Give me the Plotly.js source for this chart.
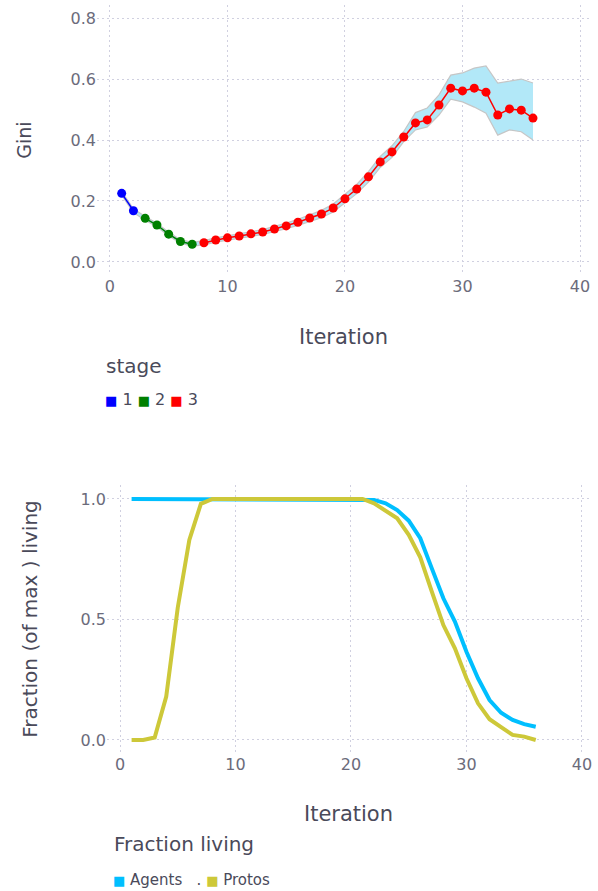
<!DOCTYPE html>
<html>
<head>
<meta charset="utf-8">
<script src="https://cdn.plot.ly/plotly-3.0.1.min.js"></script>
<style>html,body{margin:0;padding:0;background:#fff;}#chart{width:598px;height:891px;}</style>
</head>
<body>
<div id="chart"></div>
<script>
// ---- data ----
var iteration = [1,2,3,4,5,6,7,8,9,10,11,12,13,14,15,16,17,18,19,20,21,22,23,24,25,26,27,28,29,30,31,32,33,34,35,36];
var stageOf =   [1,1,2,2,2,2,2,3,3,3,3,3,3,3,3,3,3,3,3,3,3,3,3,3,3,3,3,3,3,3,3,3,3,3,3,3];
var gini = [0.225,0.168,0.143,0.121,0.091,0.067,0.058,0.063,0.072,0.079,0.085,0.092,0.098,0.108,0.118,0.130,0.144,0.157,0.177,0.207,0.239,0.279,0.328,0.361,0.410,0.456,0.466,0.515,0.570,0.561,0.570,0.557,0.482,0.502,0.498,0.472];
var giniLow = [0.219,0.162,0.137,0.115,0.085,0.061,0.052,0.056,0.065,0.072,0.078,0.084,0.090,0.099,0.109,0.120,0.133,0.145,0.164,0.193,0.224,0.262,0.310,0.343,0.395,0.433,0.443,0.482,0.534,0.525,0.508,0.488,0.416,0.433,0.427,0.400];
var giniHigh = [0.231,0.174,0.149,0.127,0.097,0.073,0.064,0.070,0.079,0.086,0.092,0.100,0.106,0.117,0.127,0.140,0.155,0.169,0.190,0.221,0.254,0.296,0.346,0.381,0.428,0.490,0.505,0.548,0.613,0.620,0.636,0.643,0.587,0.593,0.600,0.587];
var stages = [1,2,3];
var stageColors = ['#0000ff','#008000','#ff0000'];

var agents = [1,1,1,1,1,1,1,1,1,1,1,1,1,1,1,1,1,1,1,1,1,0.996,0.982,0.954,0.910,0.837,0.712,0.588,0.491,0.366,0.256,0.166,0.113,0.083,0.066,0.055];
var protos = [0,0,0.01,0.18,0.55,0.83,0.98,1,1,1,1,1,1,1,1,1,1,1,1,1,1,0.982,0.951,0.920,0.851,0.758,0.616,0.477,0.380,0.256,0.152,0.086,0.053,0.021,0.014,0.0];
var seriesNames = ['Agents','Protos'];
var seriesColors = ['#00bfff','#cdc839'];

// ---- traces ----
var traces = [];
traces.push({x: iteration, y: giniLow, xaxis:'x', yaxis:'y', mode:'lines',
  line:{color:'rgb(198,198,198)', width:1.2}, showlegend:false, hoverinfo:'skip'});
traces.push({x: iteration, y: giniHigh, xaxis:'x', yaxis:'y', mode:'lines', fill:'tonexty',
  fillcolor:'rgb(178,232,248)', line:{color:'rgb(198,198,198)', width:1.2}, showlegend:false, hoverinfo:'skip'});
stages.forEach(function(s, k){
  var xs = [], ys = [];
  for (var i = 0; i < iteration.length; i++) {
    if (stageOf[i] === s) { xs.push(iteration[i]); ys.push(gini[i]); }
  }
  traces.push({x: xs, y: ys, xaxis:'x', yaxis:'y', mode:'lines+markers', name:String(s),
    line:{color: stageColors[k], width:1.5}, marker:{color: stageColors[k], size:9}, showlegend:false});
});
traces.push({x: iteration, y: agents, xaxis:'x2', yaxis:'y2', mode:'lines', name: seriesNames[0],
  line:{color: seriesColors[0], width:4}, showlegend:false});
traces.push({x: iteration, y: protos, xaxis:'x2', yaxis:'y2', mode:'lines', name: seriesNames[1],
  line:{color: seriesColors[1], width:4}, showlegend:false});

// ---- layout ----
var FONT = 'DejaVu Sans, Verdana, sans-serif';
var gridC = 'rgb(208,208,224)';
function axisBase(){
  return {showgrid:true, gridcolor:gridC, griddash:'2px,3px', gridwidth:1, zeroline:false,
    showline:false, ticks:'', automargin:false,
    tickfont:{family:FONT, size:16, color:'#6b6b7b'}};
}
var xa = axisBase(); xa.domain=[97/598, 590/598]; xa.range=[-1.1, 40.85]; xa.dtick=10; xa.anchor='y';
xa.title={text:'Iteration', standoff:34, font:{family:FONT, size:21, color:'#4a4a5a'}};
var ya = axisBase(); ya.domain=[(891-275)/891, (891-5)/891]; ya.range=[-0.043, 0.843]; ya.dtick=0.2; ya.tickformat='.1f'; ya.anchor='x';
ya.title={text:'Gini', standoff:33, font:{family:FONT, size:19, color:'#4a4a5a'}};
var xb = axisBase(); xb.domain=[107/598, 590/598]; xb.range=[-1.13, 40.7]; xb.dtick=10; xb.anchor='y2';
xb.title={text:'Iteration', standoff:33, font:{family:FONT, size:21, color:'#4a4a5a'}};
var yb = axisBase(); yb.domain=[(891-753)/891, (891-485)/891]; yb.range=[-0.054, 1.058]; yb.dtick=0.5; yb.tickformat='.1f'; yb.anchor='x2';
yb.title={text:'Fraction (of max ) living', standoff:37, font:{family:FONT, size:20, color:'#4a4a5a'}};

function sq(c){ return '<span style="color:'+c+';font-size:13px">■</span>'; }
var legTop = stages.map(function(s,k){ return sq(stageColors[k]) + ' ' + s; }).join(' ');
var legBot = sq(seriesColors[0]) + ' ' + seriesNames[0] + '   . ' + sq(seriesColors[1]) + ' ' + seriesNames[1];

var layout = {
  width:598, height:891, margin:{l:0,r:0,t:0,b:0}, paper_bgcolor:'#fff', plot_bgcolor:'#fff',
  showlegend:false, font:{family:FONT, color:'#4a4a5a'},
  xaxis: xa, yaxis: ya, xaxis2: xb, yaxis2: yb,
  annotations:[
    {xref:'paper', yref:'paper', x:104/598, y:1-366/891, xanchor:'left', yanchor:'middle', showarrow:false,
     text:'stage', font:{family:FONT, size:20, color:'#4a4a5a'}},
    {xref:'paper', yref:'paper', x:103/598, y:1-400/891, xanchor:'left', yanchor:'middle', showarrow:false,
     text:legTop, font:{family:FONT, size:16, color:'#4a4a5a'}},
    {xref:'paper', yref:'paper', x:112/598, y:1-844/891, xanchor:'left', yanchor:'middle', showarrow:false,
     text:'Fraction living', font:{family:FONT, size:20, color:'#4a4a5a'}},
    {xref:'paper', yref:'paper', x:111/598, y:1-880/891, xanchor:'left', yanchor:'middle', showarrow:false,
     text:legBot, font:{family:FONT, size:15, color:'#4a4a5a'}}
  ]
};
Plotly.newPlot('chart', traces, layout, {displayModeBar:false, staticPlot:true});
</script>
</body>
</html>
